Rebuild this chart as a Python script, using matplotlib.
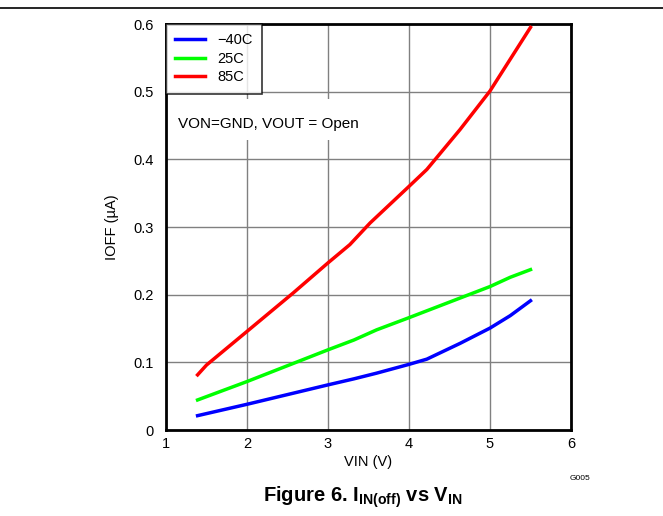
import matplotlib
matplotlib.use("Agg")
import matplotlib.pyplot as plt
from matplotlib.lines import Line2D
import matplotlib.patches as mpatches

plt.rcParams['font.family'] = ['Liberation Sans', 'DejaVu Sans']
plt.rcParams['mathtext.fontset'] = 'custom'
plt.rcParams['mathtext.rm'] = 'Liberation Sans'
plt.rcParams['mathtext.bf'] = 'Liberation Sans:bold'

vin_85 = [1.39, 1.50, 2.0, 2.57, 3.0, 3.27, 3.52, 4.0, 4.22, 4.63, 5.0, 5.25, 5.5]
ioff_85 = [0.0815, 0.096, 0.1457, 0.2025, 0.247, 0.274, 0.306, 0.360, 0.385, 0.444, 0.501, 0.548, 0.595]

vin_25 = [1.39, 2.0, 3.0, 3.32, 3.6, 4.0, 5.0, 5.25, 5.5]
ioff_25 = [0.0444, 0.0716, 0.1185, 0.133, 0.148, 0.166, 0.212, 0.2257, 0.237]

vin_m40 = [1.39, 2.0, 3.0, 3.32, 3.6, 4.0, 4.22, 4.63, 5.0, 5.25, 5.5]
ioff_m40 = [0.0212, 0.038, 0.0667, 0.0756, 0.084, 0.097, 0.1047, 0.128, 0.1506, 0.169, 0.191]

xticks = [1, 2, 3, 4, 5, 6]
yticks = [0, 0.1, 0.2, 0.3, 0.4, 0.5, 0.6]
ytick_labels = ['0', '0.1', '0.2', '0.3', '0.4', '0.5', '0.6']

fig = plt.figure(figsize=(6.63, 5.16), dpi=100)
ax = fig.add_axes([166/663, 1-430/516, (571-166)/663, (430-24)/516])

ax.plot(vin_m40, ioff_m40, color='#0000ff', lw=2.5, label='\u221240C', zorder=3)
ax.plot(vin_25, ioff_25, color='#00ff00', lw=2.5, label='25C', zorder=3)
ax.plot(vin_85, ioff_85, color='#ff0000', lw=2.5, label='85C', zorder=3)

ax.set_xlim(1, 6)
ax.set_ylim(0, 0.6)
ax.set_xticks(xticks)
ax.set_yticks(yticks)
ax.set_yticklabels(ytick_labels)
ax.tick_params(length=0, labelsize=10.5, pad=5)
ax.tick_params(axis='y', pad=9)
ax.grid(True, color='#808080', lw=1)
ax.set_axisbelow(True)
for s in ax.spines.values():
    s.set_linewidth(2)
    s.set_color('black')

ax.set_xlabel('VIN (V)', fontsize=10.5, labelpad=3)
ax.set_ylabel('IOFF (\u00b5A)', fontsize=10.5, labelpad=10)

leg = ax.legend(loc='upper left', fontsize=10.5, frameon=True, fancybox=False,
                borderaxespad=0, handlelength=2.0, handletextpad=0.85,
                labelspacing=0.3, borderpad=0.65)
leg.get_frame().set_edgecolor('black')
leg.get_frame().set_linewidth(1.2)

# white background behind annotation
ax.add_patch(mpatches.Rectangle((1.0, 0.428), 2.45, 0.061, facecolor='white',
                                edgecolor='none', zorder=2))
ax.text(1.15, 0.452, 'VON=GND, VOUT = Open', fontsize=11, va='center', ha='left', zorder=4)

fig.add_artist(Line2D([0, 1], [1-8/516, 1-8/516], color='black', lw=1.2))
fig.text(580/663, 1-478/516, 'G005', fontsize=6, ha='center', va='center')
fig.text(363/663, 1-497/516, r'Figure 6. I$_{\mathbf{IN(off)}}$ vs V$_{\mathbf{IN}}$',
         fontsize=14.5, fontweight='bold', ha='center', va='center')

fig.savefig('out.png', dpi=100)
